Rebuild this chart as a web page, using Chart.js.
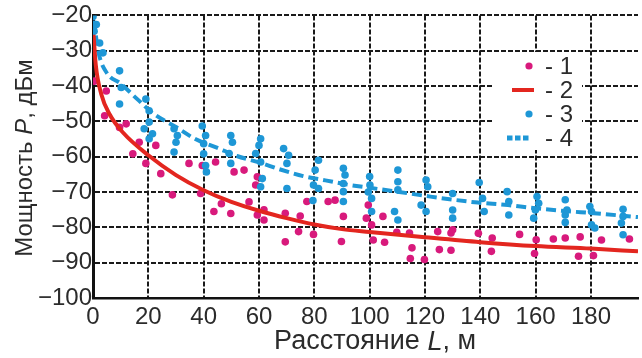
<!DOCTYPE html>
<html>
<head>
<meta charset="utf-8">
<script src="https://cdn.jsdelivr.net/npm/chart.js@4.4.1/dist/chart.umd.min.js"></script>
<style>
  body { margin: 0; background: #fff; }
  #wrap { width: 642px; height: 358px; }
</style>
</head>
<body>
<div id="wrap"><canvas id="chart" width="642" height="358"></canvas></div>
<script>
// points: [L, P]
const series1 = [
  [0.6,-38.6],[4.8,-41.4],[4.2,-48.4],[9.6,-51.7],[12,-50.7],[16.7,-55.9],[14.4,-59.2],[19.1,-61.9],
  [22.7,-56.8],[24.5,-64.8],[28.7,-70.8],[34.7,-61.9],[38.9,-70.4],[39.5,-62.5],[44.3,-61.5],[43.7,-75.5],
  [46.4,-73.3],[49.8,-76.1],[51,-64.3],[54.6,-63.8],[56.4,-72.8],[59.4,-65.7],[58.8,-68],[59.4,-76.5],
  [61.8,-77.9],[61.8,-75],[69.5,-76],[69.5,-84.1],[74.3,-81.2],[74.9,-76.8],[77.3,-72.7],[79.7,-82],
  [85,-72.7],[87.5,-72.3],[90.5,-76.9],[89.8,-84],[99.5,-73.7],[98.8,-77.4],[100.7,-79.3],[101.3,-83.6],
  [104.8,-76.9],[105.4,-84.2],[109.8,-81.4],[114.4,-81.6],[115.3,-85.8],[114.7,-88.8],[119.8,-89.1],
  [124.6,-81.2],[125.2,-86.3],[129.4,-86.5],[129.4,-81.6],[130,-80.7],[139.3,-81.7],[144.3,-83],
  [144,-86.8],[154.2,-82],[160.2,-83.5],[159.6,-87.4],[166.4,-83.3],[170.7,-83],[176.1,-82.7],
  [175.5,-88.2],[180.9,-88],[183.8,-83.6],[193.9,-83.3]
];
const series2L = [0.2, 1, 3, 6, 11, 20, 30, 40, 50, 60, 70, 80, 90, 100, 120, 140, 160, 180, 197];
const series2P = [-25.5, -34, -42.3, -48, -53.3, -59.6, -65.2, -69.5, -72.8, -75.3, -77.4, -79.2, -80.5, -81.3, -82.8, -84.2, -85.3, -86, -86.8];
const series3 = [
  [0,-20.3],[1.2,-22.6],[0.4,-24.5],[2.4,-27.8],[3.6,-30.6],[9.6,-35.7],[10.2,-40.4],[9.6,-45.1],
  [19.1,-43.7],[20.3,-47],[18.5,-52.1],[20.3,-50.2],[21.5,-53.5],[20.3,-54.9],[29.3,-52.1],[30.5,-54],
  [30,-55.9],[29.3,-58.7],[39.5,-51.3],[40.7,-54],[40,-56.3],[40,-59.2],[40.7,-62.5],[41,-64.3],
  [49.8,-54],[50.4,-55.9],[49.2,-59.1],[49.8,-61.9],[60.6,-54.9],[60,-56.8],[58.8,-59.1],[60.6,-61.5],
  [61.2,-66.2],[60.6,-68.5],[68.9,-57.7],[70.7,-59.6],[70.1,-61.9],[70.1,-69],[81.5,-61],[80.3,-63.8],
  [79.7,-68],[81.5,-69],[79.5,-72.4],[90.5,-63.3],[91.1,-65.2],[90.5,-67.6],[90.5,-69.9],[90.5,-72.7],
  [100,-65.6],[100.1,-68],[99.5,-70],[100.7,-71.8],[100.7,-75.5],[110.2,-63.8],[110.2,-67.1],[110.2,-69.4],
  [109,-75.5],[110.2,-77.9],[120.4,-66.6],[121,-68.5],[118.6,-73.7],[120.4,-75.5],[130,-70.4],[130,-75.1],
  [130,-77.4],[139.6,-67.3],[140.8,-71.8],[141.4,-75.5],[149.7,-69.9],[150.3,-72.7],[150.3,-76.5],
  [160.5,-71.3],[161.1,-73.2],[159.9,-75.1],[159.3,-77.4],[170.7,-72.2],[171.3,-75.1],[170.7,-76.5],
  [170.7,-78.6],[179.6,-74.1],[180.2,-75.5],[180.2,-79.3],[181.4,-80.2],[191.6,-74.9],[191.6,-76.9],
  [191,-78.8],[191.6,-82.1]
];
const series4L = [0.3, 2, 5, 10, 16, 22, 30, 37, 45, 52, 60, 68, 76, 84, 92, 100, 110, 122, 138, 150, 160, 171, 181, 197];
const series4P = [-21.5, -30.5, -36.3, -39.3, -43.7, -47.9, -51.6, -55, -57.5, -59.8, -61.6, -63.7, -65.5, -66.7, -67.9, -68.8, -69.9, -71.3, -72.9, -73.7, -74.6, -75.4, -76, -77.1];
const legendLabels = ['- 1', '- 2', '- 3', '- 4'];

const PINK = '#d81a7c';
const RED = '#e3261f';
const BLUE = '#1e97d6';
const FONT = "'Liberation Sans', Arial, sans-serif";

const toXY = arr => arr.map(p => ({x: p[0], y: p[1]}));
const zipXY = (xs, ys) => xs.map((x, i) => ({x: x, y: ys[i]}));

// axis titles with italic letters
const titlesPlugin = {
  id: 'titles',
  afterDraw(chart) {
    const ctx = chart.ctx;
    const drawParts = (parts, size, cx, cy, rot) => {
      ctx.save();
      ctx.translate(cx, cy);
      ctx.rotate(rot);
      ctx.fillStyle = '#2b2b2b';
      ctx.textBaseline = 'middle';
      let total = 0;
      parts.forEach(p => { ctx.font = p[1] + ' ' + size + 'px ' + FONT; total += ctx.measureText(p[0]).width; });
      let x = -total / 2;
      parts.forEach(p => {
        ctx.font = p[1] + ' ' + size + 'px ' + FONT;
        ctx.fillText(p[0], x, 0);
        x += ctx.measureText(p[0]).width;
      });
      ctx.restore();
    };
    drawParts([['Расстояние ', 'normal'], ['L', 'italic'], [', м', 'normal']], 27, 375, 342, 0);
    drawParts([['Мощность ', 'normal'], ['P', 'italic'], [', дБм', 'normal']], 24, 25, 158, -Math.PI / 2);
  }
};

// legend box inside the plot
const legendPlugin = {
  id: 'boxLegend',
  afterDraw(chart) {
    const ctx = chart.ctx;
    ctx.save();
    ctx.fillStyle = '#fff';
    ctx.fillRect(494, 52, 88, 98);
    const rows = [66, 90, 114, 138];
    ctx.fillStyle = PINK;
    ctx.beginPath(); ctx.arc(529, rows[0], 3.6, 0, Math.PI * 2); ctx.fill();
    ctx.strokeStyle = RED; ctx.lineWidth = 4;
    ctx.beginPath(); ctx.moveTo(512, rows[1]); ctx.lineTo(534, rows[1]); ctx.stroke();
    ctx.fillStyle = BLUE;
    ctx.beginPath(); ctx.arc(529, rows[2], 3.6, 0, Math.PI * 2); ctx.fill();
    [507, 515, 523].forEach(x => ctx.fillRect(x, rows[3] - 2.5, 5.5, 5));
    ctx.fillStyle = '#2b2b2b';
    ctx.font = '24px ' + FONT;
    ctx.textBaseline = 'middle';
    legendLabels.forEach((t, i) => ctx.fillText(t, 545, rows[i] + 1));
    ctx.restore();
  }
};

const ctx = document.getElementById('chart').getContext('2d');

new Chart(ctx, {
  type: 'scatter',
  data: {
    datasets: [
      {
        label: '1',
        data: toXY(series1),
        backgroundColor: PINK,
        borderColor: PINK,
        pointRadius: 3.8,
        pointBorderWidth: 0,
        order: 4
      },
      {
        label: '3',
        data: toXY(series3),
        backgroundColor: BLUE,
        borderColor: BLUE,
        pointRadius: 3.8,
        pointBorderWidth: 0,
        order: 3
      },
      {
        label: '4',
        type: 'line',
        data: zipXY(series4L, series4P),
        borderColor: BLUE,
        borderWidth: 4,
        borderDash: [10, 5],
        pointRadius: 0,
        fill: false,
        cubicInterpolationMode: 'monotone',
        order: 2
      },
      {
        label: '2',
        type: 'line',
        data: zipXY(series2L, series2P),
        borderColor: RED,
        borderWidth: 4,
        pointRadius: 0,
        fill: false,
        cubicInterpolationMode: 'monotone',
        order: 1
      }
    ]
  },
  options: {
    responsive: false,
    animation: false,
    layout: { padding: { top: 14, right: 0, bottom: 0, left: 0 } },
    plugins: {
      legend: { display: false },
      tooltip: { enabled: false }
    },
    scales: {
      x: {
        type: 'linear',
        min: 0,
        max: 197,
        afterFit(scale) { scale.height = 60; },
        ticks: {
          stepSize: 20,
          includeBounds: false,
          padding: 5,
          color: '#2b2b2b',
          font: { family: FONT, size: 24 }
        },
        grid: { color: '#1a1a1a', lineWidth: 2, drawTicks: false },
        border: { color: '#111', width: 2.5, dash: [5, 2] }
      },
      y: {
        min: -100,
        max: -20,
        afterFit(scale) { scale.width = 93; },
        ticks: {
          stepSize: 10,
          padding: 1,
          color: '#2b2b2b',
          font: { family: FONT, size: 24 },
          callback: v => (v < 0 ? '\u2212' + Math.abs(v) : String(v))
        },
        grid: { color: '#1a1a1a', lineWidth: 2, drawTicks: false },
        border: { color: '#111', width: 3, dash: [5, 2] }
      }
    }
  },
  plugins: [titlesPlugin, legendPlugin]
});
</script>
</body>
</html>
